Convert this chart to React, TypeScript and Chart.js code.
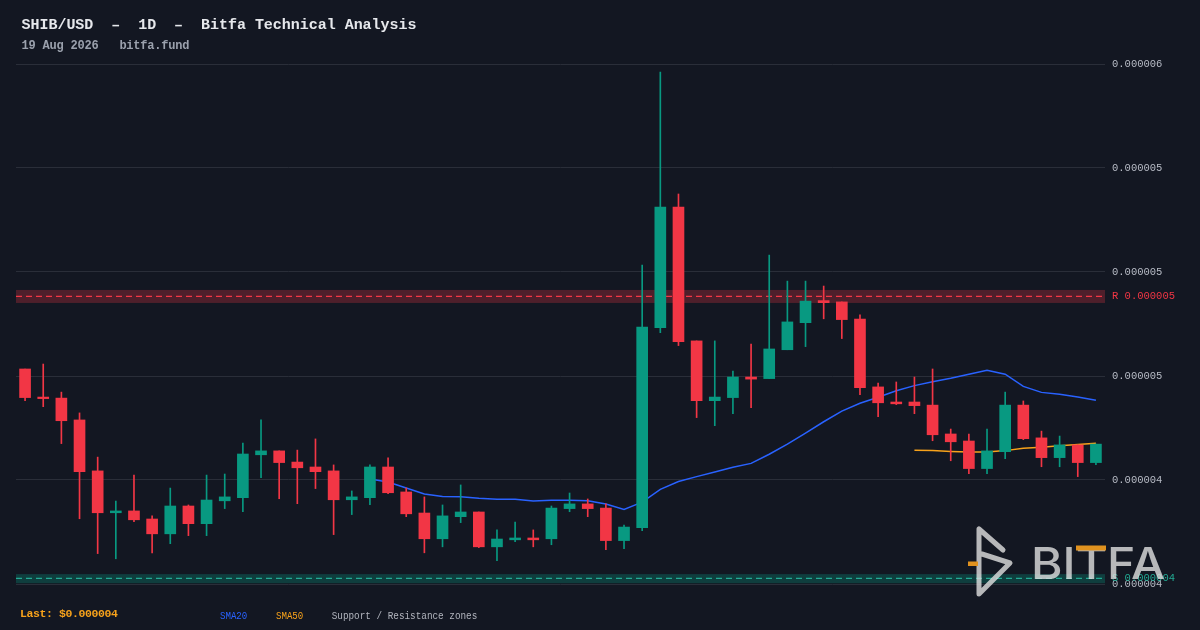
import { useEffect, useRef } from 'react'
import { Chart, registerables } from 'chart.js'

Chart.register(...registerables)

// prices are in millionths of a dollar (1 = $0.000001)
const openP = [
  4.627, 4.519, 4.515, 4.431, 4.235, 4.074, 4.081, 4.050, 3.993, 4.100,
  4.032, 4.120, 4.132, 4.297, 4.312, 4.269, 4.250, 4.235, 4.124, 4.132,
  4.250, 4.154, 4.073, 3.974, 4.059, 4.077, 3.943, 3.970, 3.977, 3.974,
  4.090, 4.108, 4.092, 3.967, 4.017, 4.786, 5.250, 4.735, 4.505, 4.517,
  4.596, 4.590, 4.701, 4.805, 4.890, 4.885, 4.819, 4.558, 4.500, 4.500,
  4.488, 4.377, 4.350, 4.244, 4.309, 4.488, 4.362, 4.286, 4.335, 4.267,
]
const highP = [
  4.627, 4.646, 4.538, 4.458, 4.288, 4.119, 4.219, 4.062, 4.169, 4.104,
  4.219, 4.223, 4.342, 4.431, 4.312, 4.315, 4.358, 4.258, 4.158, 4.258,
  4.285, 4.169, 4.135, 4.104, 4.181, 4.077, 4.008, 4.038, 4.008, 4.100,
  4.150, 4.127, 4.108, 4.027, 5.027, 5.769, 5.300, 4.735, 4.735, 4.619,
  4.723, 5.065, 4.965, 4.965, 4.946, 4.885, 4.835, 4.573, 4.577, 4.596,
  4.627, 4.396, 4.377, 4.396, 4.538, 4.504, 4.388, 4.369, 4.335, 4.338,
]
const lowP = [
  4.505, 4.482, 4.340, 4.051, 3.917, 3.897, 4.040, 3.920, 3.955, 3.986,
  3.986, 4.090, 4.078, 4.209, 4.128, 4.109, 4.167, 3.990, 4.067, 4.105,
  4.147, 4.059, 3.920, 3.943, 4.036, 3.940, 3.890, 3.963, 3.943, 3.951,
  4.078, 4.059, 3.932, 3.936, 4.005, 4.767, 4.717, 4.440, 4.409, 4.455,
  4.478, 4.590, 4.701, 4.713, 4.820, 4.744, 4.528, 4.444, 4.490, 4.455,
  4.351, 4.274, 4.224, 4.224, 4.282, 4.355, 4.251, 4.251, 4.213, 4.259,
]
const closeP = [
  4.517, 4.513, 4.428, 4.232, 4.074, 4.081, 4.047, 3.993, 4.100, 4.032,
  4.123, 4.135, 4.300, 4.312, 4.267, 4.247, 4.232, 4.124, 4.135, 4.250,
  4.151, 4.070, 3.974, 4.062, 4.077, 3.943, 3.973, 3.977, 3.970, 4.092,
  4.108, 4.090, 3.967, 4.019, 4.788, 5.250, 4.732, 4.505, 4.519, 4.596,
  4.588, 4.704, 4.808, 4.888, 4.882, 4.817, 4.555, 4.497, 4.493, 4.486,
  4.374, 4.347, 4.244, 4.312, 4.488, 4.359, 4.286, 4.335, 4.267, 4.338,
]
const sma20 = [
  null, null, null, null, null, null, null, null, null, null,
  null, null, null, null, null, null, null, null, null, 4.204,
  4.192, 4.169, 4.146, 4.137, 4.136, 4.130, 4.126, 4.126, 4.119, 4.122,
  4.122, 4.120, 4.108, 4.087, 4.115, 4.164, 4.194, 4.213, 4.231, 4.249,
  4.264, 4.299, 4.338, 4.380, 4.424, 4.465, 4.495, 4.518, 4.543, 4.563,
  4.578, 4.591, 4.607, 4.622, 4.607, 4.560, 4.537, 4.530, 4.519, 4.507,
]
const sma50 = [
  null, null, null, null, null, null, null, null, null, null,
  null, null, null, null, null, null, null, null, null, null,
  null, null, null, null, null, null, null, null, null, null,
  null, null, null, null, null, null, null, null, null, null,
  null, null, null, null, null, null, null, null, null, 4.314,
  4.313, 4.310, 4.308, 4.308, 4.313, 4.322, 4.326, 4.332, 4.337, 4.341,
]
const yTicks = [3.8, 4.2, 4.6, 5.0, 5.4, 5.8]

// support / resistance zones
const zoneNames = ['R', 'S']
const zoneLow = [4.881, 3.803]
const zoneMid = [4.906, 3.822]
const zoneHigh = [4.931, 3.838]

// one label per daily candle, ending on the report date
const categories: string[] = []
for (let i = 59; i >= 0; i--) {
  const d = new Date(Date.UTC(2026, 7, 19 - i))
  categories.push(d.toISOString().slice(0, 10))
}

const UP = '#089981'
const DOWN = '#f23645'
const BG = '#131722'
const MONO = '"Liberation Mono", "DejaVu Sans Mono", monospace'

const fmt = (v: number) => (v * 1e-6).toFixed(6)
// svg collapses runs of spaces, so keep them as no-break spaces
const keepSpaces = (s: string) => s.replace(/ /g, '\u00a0')

const zonePlugin = {
  id: 'zones',
  beforeDatasetsDraw(chart: any) {
    const { ctx, chartArea: a, scales } = chart
    const y = scales.y
    zoneNames.forEach((name, i) => {
      const top = y.getPixelForValue(zoneHigh[i])
      const bot = y.getPixelForValue(zoneLow[i])
      const mid = y.getPixelForValue(zoneMid[i])
      ctx.save()
      ctx.fillStyle = name === 'R' ? 'rgba(242,54,69,0.27)' : 'rgba(8,153,129,0.3)'
      ctx.fillRect(a.left, top, a.right - a.left, bot - top)
      ctx.strokeStyle = name === 'R' ? '#f23645' : '#22ab94'
      ctx.lineWidth = 1.2
      ctx.setLineDash([6, 4])
      ctx.beginPath()
      ctx.moveTo(a.left, mid)
      ctx.lineTo(a.right, mid)
      ctx.stroke()
      ctx.restore()
    })
  },
  afterDraw(chart: any) {
    const { ctx, chartArea: a, scales } = chart
    const y = scales.y
    zoneNames.forEach((name, i) => {
      ctx.save()
      ctx.font = '10.5px ' + MONO
      ctx.textBaseline = 'middle'
      ctx.fillStyle = name === 'R' ? '#f23645' : '#22ab94'
      ctx.fillText(name + ' ' + fmt(zoneMid[i]), a.right + 7, y.getPixelForValue(zoneMid[i]))
      ctx.restore()
    })
  },
}

function Watermark() {
  const ink = 'rgba(225,225,225,0.8)'
  return (
    <g>
      <path
        d="M1003 550 L979 529 L979 594 L1010 563 L982 554"
        fill="none"
        stroke={ink}
        strokeWidth={5}
        strokeLinecap="round"
        strokeLinejoin="round"
      />
      <rect x={968} y={561.5} width={10} height={4.5} fill="#e0921f" />
      <text
        x={1031}
        y={578.5}
        fontFamily="Inter, 'Noto Sans', sans-serif"
        fontWeight={500}
        fontSize={44}
        fill={ink}
        textLength={134}
        lengthAdjust="spacingAndGlyphs"
      >
        BITFA
      </text>
      <rect x={1076} y={545.5} width={30} height={5} fill="#e0921f" />
    </g>
  )
}

export default function App() {
  const canvasRef = useRef<HTMLCanvasElement | null>(null)

  useEffect(() => {
    if (!canvasRef.current) return
    const colors = closeP.map((c, i) => (c >= openP[i] ? UP : DOWN))

    const chart = new Chart(canvasRef.current, {
      type: 'bar',
      data: {
        labels: categories,
        datasets: [
          {
            type: 'line',
            label: 'SMA20',
            data: sma20,
            borderColor: '#2962ff',
            borderWidth: 1.5,
            pointRadius: 0,
            order: 10,
          },
          {
            type: 'line',
            label: 'SMA50',
            data: sma50,
            borderColor: '#f7a21b',
            borderWidth: 1.5,
            pointRadius: 0,
            order: 9,
          },
          {
            label: 'wick',
            data: lowP.map((l, i) => [l, highP[i]]),
            backgroundColor: colors,
            barThickness: 1,
            grouped: false,
            order: 2,
          },
          {
            label: 'body',
            data: openP.map((o, i) => [o, closeP[i]]),
            backgroundColor: colors,
            barThickness: 11,
            grouped: false,
            order: 1,
          },
        ] as any,
      },
      options: {
        responsive: false,
        animation: false,
        layout: { padding: { left: 16, top: 64, bottom: 46, right: 0 } },
        plugins: {
          legend: { display: false },
          tooltip: { enabled: false },
        },
        scales: {
          x: { display: false, offset: true },
          y: {
            position: 'right',
            min: yTicks[0],
            max: yTicks[yTicks.length - 1],
            afterBuildTicks: (scale: any) => {
              scale.ticks = yTicks.map((v) => ({ value: v }))
            },
            afterFit: (scale: any) => {
              scale.width = 95
            },
            grid: { color: '#2a2e39', drawTicks: false },
            border: { display: false },
            ticks: {
              padding: 7,
              color: '#b8bcc6',
              font: { family: MONO, size: 10.5 },
              callback: (v: any) => fmt(Number(v)),
            },
          },
        },
      },
      plugins: [zonePlugin],
    })

    return () => chart.destroy()
  }, [])

  return (
    <div style={{ position: 'fixed', left: 0, top: 0, width: 1200, height: 630, background: BG, overflow: 'hidden' }}>
      <canvas ref={canvasRef} width={1200} height={630} style={{ position: 'absolute', left: 0, top: 0, width: 1200, height: 630 }} />
      <svg width={1200} height={630} style={{ position: 'absolute', left: 0, top: 0, pointerEvents: 'none' }}>
        <g fontFamily={MONO}>
          <text x={21.5} y={29} fontSize={15} fontWeight={700} fill="#e6e8ec" textLength={395}>
            {keepSpaces('SHIB/USD  \u2013  1D  \u2013  Bitfa Technical Analysis')}
          </text>
          <text x={21.5} y={49.3} fontSize={12} fontWeight={700} fill="#9ba1ad" textLength={168}>
            {keepSpaces('19 Aug 2026   bitfa.fund')}
          </text>
          <text x={20} y={617.3} fontSize={11.5} fontWeight={700} fill="#f7a21b" textLength={98}>
            {'Last: $' + fmt(closeP[closeP.length - 1])}
          </text>
          <text x={220} y={619} fontSize={11} fill="#2962ff" textLength={27.3} lengthAdjust="spacingAndGlyphs">
            SMA20
          </text>
          <text x={276} y={619} fontSize={11} fill="#f7a21b" textLength={27.3} lengthAdjust="spacingAndGlyphs">
            SMA50
          </text>
          <text x={331.7} y={619} fontSize={11} fill="#b2b5be" textLength={145.6} lengthAdjust="spacingAndGlyphs">
            {keepSpaces('Support / Resistance zones')}
          </text>
        </g>
        <Watermark />
      </svg>
    </div>
  )
}
